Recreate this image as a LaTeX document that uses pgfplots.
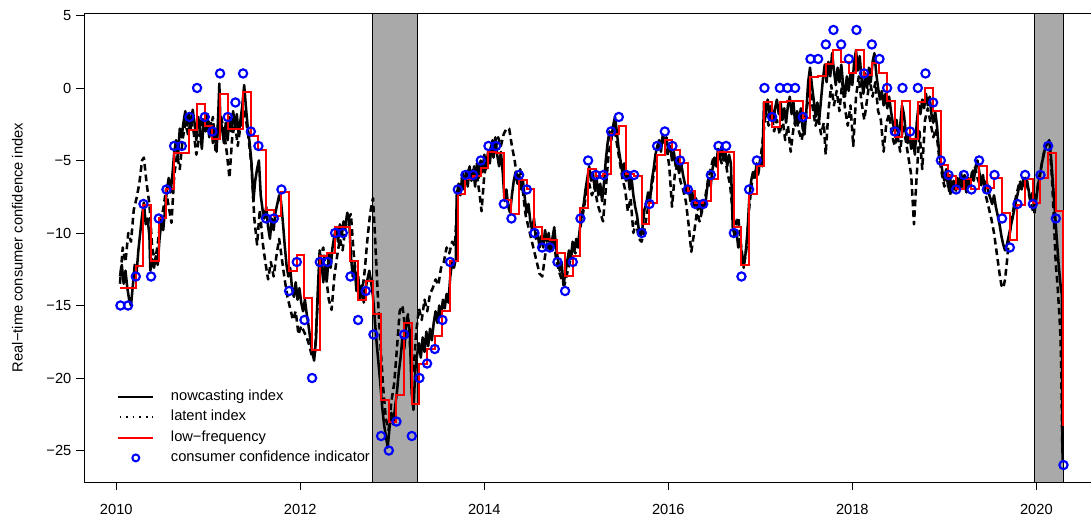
\documentclass[border=0pt]{standalone}
\usepackage{pgfplots}
\pgfplotsset{compat=1.18}
\usepackage{pgfplotstable}
\usepackage{fontspec}
\setmainfont{Liberation Sans}
\definecolor{shade}{RGB}{169,169,169}

\pgfplotstableread{
t c r
2010.045 -15 -13.8
2010.128 -15 -13.8
2010.212 -13 -12.3
2010.295 -8 -8.1
2010.378 -13 -11.9
2010.462 -9 -9.0
2010.545 -7 -7.0
2010.628 -4 -4.5
2010.712 -4 -4.5
2010.795 -2 -2.9
2010.878 0 -1.1
2010.962 -2 -2.6
2011.045 -3 -3.5
2011.128 1 -0.4
2011.212 -2 -2.8
2011.295 -1 -2.8
2011.378 1 -0.3
2011.462 -3 -3.3
2011.545 -4 -4.3
2011.628 -9 -8.4
2011.712 -9 -8.8
2011.795 -7 -7.2
2011.878 -14 -12.6
2011.962 -12 -11.5
2012.045 -16 -14.5
2012.128 -20 -18.1
2012.212 -12 -11.6
2012.295 -12 -11.4
2012.378 -10 -9.6
2012.462 -10 -9.6
2012.545 -13 -11.9
2012.628 -16 -14.6
2012.712 -14 -13.3
2012.795 -17 -15.6
2012.878 -24 -21.5
2012.962 -25 -23.0
2013.045 -23 -21.2
2013.128 -17 -16.2
2013.212 -24 -21.8
2013.295 -20 -19.0
2013.378 -19 -18.0
2013.462 -18 -17.1
2013.545 -16 -15.4
2013.628 -12 -11.9
2013.712 -7 -7.3
2013.795 -6 -6.3
2013.878 -6 -6.1
2013.962 -5 -5.5
2014.045 -4 -4.4
2014.128 -4 -4.5
2014.212 -8 -7.7
2014.295 -9 -8.7
2014.378 -6 -6.35
2014.462 -7 -7.0
2014.545 -10 -9.6
2014.628 -11 -10.4
2014.712 -11 -10.5
2014.795 -12 -11.4
2014.878 -14 -13.0
2014.962 -12 -11.6
2015.045 -9 -8.3
2015.128 -5 -5.6
2015.212 -6 -6.1
2015.295 -6 -5.9
2015.378 -3 -3.2
2015.462 -2 -2.6
2015.545 -6 -5.9
2015.628 -6 -6.1
2015.712 -10 -9.4
2015.795 -8 -7.9
2015.878 -4 -4.6
2015.962 -3 -3.6
2016.045 -4 -4.3
2016.128 -5 -5.2
2016.212 -7 -7.1
2016.295 -8 -7.9
2016.378 -8 -7.8
2016.462 -6 -6.3
2016.545 -4 -4.4
2016.628 -4 -4.4
2016.712 -10 -9.6
2016.795 -13 -12.2
2016.878 -7 -7.3
2016.962 -5 -5.4
2017.045 0 -0.95
2017.128 -2 -2.7
2017.212 0 -0.95
2017.295 0 -0.9
2017.378 0 -0.9
2017.462 -2 -2.1
2017.545 2 0.75
2017.628 2 0.8
2017.712 3 1.65
2017.795 4 2.65
2017.878 3 1.8
2017.962 2 1.0
2018.045 4 2.65
2018.128 1 0.9
2018.212 3 1.7
2018.295 2 1.0
2018.378 0 -0.9
2018.462 -3 -3.4
2018.545 0 -0.9
2018.628 -3 -3.5
2018.712 0 -1.0
2018.795 1 0.0
2018.878 -1 -1.6
2018.962 -5 -5.3
2019.045 -6 -6.1
2019.128 -7 -7.0
2019.212 -6 -6.3
2019.295 -7 -7.0
2019.378 -5 -5.4
2019.462 -7 -6.9
2019.545 -6 -6.2
2019.628 -9 -8.6
2019.712 -11 -10.5
2019.795 -8 -8.1
2019.878 -6 -6.3
2019.962 -8 -7.9
2020.045 -6 -6.2
2020.128 -4 -4.5
2020.212 -9 -8.5
2020.295 -26 -23.3
}\monthly

\pgfplotstableread{
t v
2010.04 -13.0
2010.06 -12.2
2010.08 -13.5
2010.10 -12.6
2010.12 -13.8
2010.14 -14.6
2010.16 -15.0
2010.18 -13.6
2010.20 -12.2
2010.22 -12.8
2010.24 -11.2
2010.26 -10.0
2010.28 -8.8
2010.30 -7.9
2010.32 -9.4
2010.34 -9.0
2010.36 -10.2
2010.37 -12.6
2010.39 -11.8
2010.41 -12.4
2010.43 -11.6
2010.45 -12.2
2010.47 -10.4
2010.49 -9.2
2010.51 -9.8
2010.53 -8.4
2010.55 -7.0
2010.57 -6.2
2010.59 -7.2
2010.61 -6.0
2010.63 -4.4
2010.65 -3.6
2010.67 -4.8
2010.69 -2.8
2010.71 -3.4
2010.73 -2.4
2010.75 -1.6
2010.77 -2.6
2010.79 -1.8
2010.81 -2.8
2010.83 -1.5
2010.85 -2.4
2010.87 -3.6
2010.89 -2.0
2010.91 -2.8
2010.93 -4.2
2010.95 -2.2
2010.97 -3.0
2010.99 -2.0
2011.01 -3.4
2011.03 -2.4
2011.05 -3.8
2011.07 -2.8
2011.09 -4.4
2011.11 -1.5
2011.12 0.3
2011.13 -2.0
2011.15 -2.8
2011.17 -3.8
2011.19 -2.4
2011.21 -3.6
2011.23 -2.0
2011.25 -3.0
2011.27 -1.6
2011.29 -2.6
2011.31 -1.8
2011.33 -3.2
2011.35 -2.2
2011.37 -1.2
2011.39 0.2
2011.41 -1.4
2011.43 -2.8
2011.45 -3.8
2011.47 -5.2
2011.49 -7.8
2011.51 -6.4
2011.53 -5.6
2011.55 -5.0
2011.57 -7.4
2011.59 -8.4
2011.61 -9.0
2011.63 -8.2
2011.65 -9.6
2011.67 -10.4
2011.69 -9.0
2011.71 -9.8
2011.73 -8.6
2011.75 -8.0
2011.77 -7.4
2011.79 -7.8
2011.81 -9.2
2011.83 -10.8
2011.85 -12.2
2011.87 -13.0
2011.89 -12.4
2011.91 -13.8
2011.93 -14.4
2011.95 -13.4
2011.97 -14.6
2011.99 -13.8
2012.01 -14.8
2012.03 -15.4
2012.05 -14.6
2012.07 -15.6
2012.09 -16.4
2012.11 -17.4
2012.13 -18.2
2012.15 -18.8
2012.17 -17.4
2012.19 -14.0
2012.21 -11.2
2012.23 -12.0
2012.25 -13.4
2012.27 -12.2
2012.29 -13.2
2012.31 -11.4
2012.33 -12.4
2012.35 -11.0
2012.37 -10.2
2012.39 -9.6
2012.41 -10.6
2012.43 -9.4
2012.45 -10.2
2012.47 -9.2
2012.49 -9.6
2012.51 -8.6
2012.53 -9.0
2012.55 -11.6
2012.57 -13.0
2012.59 -12.2
2012.61 -14.0
2012.63 -13.0
2012.65 -14.6
2012.67 -13.6
2012.69 -14.8
2012.71 -13.8
2012.73 -13.2
2012.75 -12.6
2012.77 -13.4
2012.79 -14.4
2012.81 -16.0
2012.83 -17.6
2012.85 -19.0
2012.87 -20.4
2012.89 -22.0
2012.91 -23.2
2012.93 -24.0
2012.95 -24.8
2012.97 -23.4
2012.99 -22.4
2013.01 -23.2
2013.03 -22.0
2013.05 -21.0
2013.07 -19.6
2013.09 -18.6
2013.11 -17.2
2013.13 -18.0
2013.15 -16.4
2013.17 -15.8
2013.19 -16.8
2013.21 -21.0
2013.23 -22.2
2013.25 -19.4
2013.27 -18.4
2013.29 -17.6
2013.31 -18.6
2013.33 -17.2
2013.35 -18.2
2013.37 -16.8
2013.39 -17.8
2013.41 -16.6
2013.43 -17.4
2013.45 -16.2
2013.47 -15.4
2013.49 -16.2
2013.51 -15.0
2013.53 -15.8
2013.55 -14.6
2013.57 -15.2
2013.59 -14.2
2013.61 -14.8
2013.63 -13.0
2013.65 -12.0
2013.67 -12.4
2013.69 -11.8
2013.70 -7.4
2013.72 -6.6
2013.74 -7.4
2013.76 -6.0
2013.78 -7.0
2013.80 -5.8
2013.82 -6.8
2013.84 -5.4
2013.86 -6.4
2013.88 -5.6
2013.90 -6.8
2013.92 -5.2
2013.94 -6.2
2013.96 -5.0
2013.98 -5.8
2014.00 -4.6
2014.02 -5.6
2014.04 -4.4
2014.06 -5.2
2014.08 -3.8
2014.10 -4.8
2014.12 -3.4
2014.14 -4.6
2014.16 -5.4
2014.18 -4.4
2014.20 -5.8
2014.22 -7.8
2014.24 -7.0
2014.26 -8.2
2014.28 -8.6
2014.30 -7.4
2014.32 -6.4
2014.34 -5.8
2014.36 -6.6
2014.38 -6.0
2014.40 -7.0
2014.42 -6.4
2014.44 -7.6
2014.46 -8.6
2014.48 -8.0
2014.50 -9.2
2014.52 -9.8
2014.54 -9.0
2014.56 -10.4
2014.58 -10.0
2014.60 -11.0
2014.62 -10.2
2014.64 -11.0
2014.66 -9.8
2014.68 -10.6
2014.70 -10.0
2014.72 -11.2
2014.74 -10.4
2014.76 -9.6
2014.78 -11.0
2014.80 -11.8
2014.82 -12.6
2014.84 -12.0
2014.86 -13.6
2014.88 -12.8
2014.90 -12.0
2014.92 -11.2
2014.94 -11.8
2014.96 -10.6
2014.98 -11.2
2015.00 -10.4
2015.02 -11.0
2015.04 -9.6
2015.06 -8.8
2015.08 -8.0
2015.10 -7.0
2015.12 -6.2
2015.14 -5.4
2015.16 -6.4
2015.18 -5.8
2015.20 -7.0
2015.22 -6.2
2015.24 -7.4
2015.26 -6.6
2015.28 -7.8
2015.30 -6.6
2015.32 -5.0
2015.34 -3.8
2015.36 -3.0
2015.38 -3.6
2015.40 -2.6
2015.42 -2.0
2015.44 -3.0
2015.46 -4.2
2015.48 -5.0
2015.50 -5.8
2015.52 -5.2
2015.54 -6.4
2015.56 -5.8
2015.58 -7.0
2015.60 -6.2
2015.62 -7.4
2015.64 -8.2
2015.66 -8.8
2015.68 -9.8
2015.70 -10.2
2015.72 -9.6
2015.74 -8.4
2015.76 -8.0
2015.78 -7.2
2015.80 -7.8
2015.82 -6.4
2015.84 -5.6
2015.86 -4.6
2015.88 -4.0
2015.90 -3.6
2015.92 -4.4
2015.94 -3.2
2015.96 -3.8
2015.98 -3.4
2016.00 -4.4
2016.02 -4.0
2016.04 -5.0
2016.06 -4.4
2016.08 -5.4
2016.10 -4.8
2016.12 -5.8
2016.14 -5.2
2016.16 -6.0
2016.18 -6.6
2016.20 -7.2
2016.22 -6.8
2016.24 -7.8
2016.26 -7.2
2016.28 -8.2
2016.30 -7.6
2016.32 -8.4
2016.34 -7.8
2016.36 -8.6
2016.38 -7.8
2016.40 -8.2
2016.42 -7.0
2016.44 -6.2
2016.46 -6.8
2016.48 -5.6
2016.50 -4.8
2016.52 -5.4
2016.54 -4.2
2016.56 -4.8
2016.58 -4.0
2016.60 -5.0
2016.62 -4.4
2016.64 -5.4
2016.66 -4.6
2016.68 -5.2
2016.70 -9.6
2016.72 -10.2
2016.74 -9.8
2016.76 -11.0
2016.78 -10.4
2016.80 -11.6
2016.82 -12.2
2016.84 -11.4
2016.86 -10.0
2016.88 -7.6
2016.90 -6.4
2016.92 -5.8
2016.94 -6.2
2016.96 -5.2
2016.98 -5.8
2017.00 -4.8
2017.02 -5.4
2017.04 -1.0
2017.06 -1.6
2017.08 -0.8
2017.10 -2.0
2017.12 -1.2
2017.14 -2.4
2017.16 -1.4
2017.18 -0.8
2017.20 -1.8
2017.22 -1.0
2017.24 -2.2
2017.26 -1.4
2017.28 -2.4
2017.30 -1.2
2017.32 -0.6
2017.34 -1.8
2017.36 -1.0
2017.38 -2.6
2017.40 -1.6
2017.42 -2.4
2017.44 -1.4
2017.46 -2.8
2017.48 -3.2
2017.50 -1.6
2017.52 0.4
2017.54 1.4
2017.56 0.2
2017.58 -0.8
2017.60 -2.0
2017.62 -1.0
2017.64 -2.2
2017.66 -0.8
2017.68 0.6
2017.70 1.6
2017.72 0.4
2017.74 1.8
2017.76 0.8
2017.78 2.4
2017.80 1.2
2017.82 0.2
2017.84 1.4
2017.86 0.4
2017.88 1.6
2017.90 0.2
2017.92 -0.6
2017.94 0.8
2017.96 -0.2
2017.98 1.0
2018.00 0.2
2018.02 1.8
2018.04 2.6
2018.06 1.2
2018.08 2.2
2018.10 0.6
2018.12 -0.4
2018.14 1.0
2018.16 0.0
2018.18 1.4
2018.20 0.4
2018.22 1.8
2018.24 2.4
2018.26 1.0
2018.28 0.0
2018.30 -0.8
2018.32 -0.2
2018.34 -1.2
2018.36 -0.4
2018.38 -1.4
2018.40 -0.6
2018.42 -1.6
2018.44 -2.4
2018.46 -3.0
2018.48 -2.2
2018.50 -3.4
2018.52 -2.6
2018.54 -1.2
2018.56 -1.8
2018.58 -3.0
2018.60 -3.8
2018.62 -3.2
2018.64 -4.2
2018.66 -3.6
2018.68 -4.6
2018.70 -2.4
2018.72 -1.2
2018.74 -1.8
2018.76 -0.8
2018.78 -1.4
2018.80 -0.4
2018.82 -1.2
2018.84 -0.6
2018.86 -1.8
2018.88 -2.4
2018.90 -1.6
2018.92 -2.6
2018.94 -4.2
2018.96 -5.0
2018.98 -5.8
2019.00 -6.4
2019.02 -5.6
2019.04 -6.8
2019.06 -6.0
2019.08 -7.2
2019.10 -6.4
2019.12 -7.0
2019.14 -6.2
2019.16 -6.8
2019.18 -5.8
2019.20 -6.6
2019.22 -6.0
2019.24 -7.0
2019.26 -6.2
2019.28 -6.8
2019.30 -5.8
2019.32 -6.4
2019.34 -5.4
2019.36 -5.0
2019.38 -5.8
2019.40 -6.6
2019.42 -6.0
2019.44 -7.0
2019.46 -6.4
2019.48 -7.2
2019.50 -7.6
2019.52 -8.0
2019.54 -7.4
2019.56 -8.2
2019.58 -8.8
2019.60 -9.4
2019.62 -10.2
2019.64 -10.8
2019.66 -11.2
2019.68 -10.8
2019.70 -10.2
2019.72 -9.6
2019.74 -9.0
2019.76 -8.4
2019.78 -7.8
2019.80 -7.2
2019.82 -6.6
2019.84 -7.0
2019.86 -6.2
2019.88 -6.8
2019.90 -6.4
2019.92 -7.2
2019.94 -7.8
2019.96 -7.2
2019.98 -8.6
2020.00 -7.6
2020.02 -6.6
2020.04 -6.0
2020.06 -5.2
2020.08 -4.6
2020.10 -4.0
2020.12 -3.8
2020.14 -3.6
2020.16 -4.8
2020.18 -6.6
2020.20 -8.4
2020.22 -10.2
2020.24 -12.0
2020.26 -13.4
2020.27 -14.0
2020.278 -14.2
2020.285 -25.7
}\nowcast

\pgfplotstableread{
t v
2010.04 -13.5
2010.07 -11.0
2010.10 -12.0
2010.13 -10.0
2010.16 -10.6
2010.19 -8.4
2010.22 -7.6
2010.25 -6.6
2010.28 -5.0
2010.30 -4.8
2010.33 -6.6
2010.36 -8.0
2010.39 -11.0
2010.42 -12.0
2010.45 -10.8
2010.48 -9.0
2010.51 -8.4
2010.54 -7.0
2010.57 -8.2
2010.60 -9.3
2010.63 -6.0
2010.66 -4.6
2010.69 -5.6
2010.72 -3.6
2010.75 -2.4
2010.78 -3.2
2010.81 -2.2
2010.84 -3.0
2010.87 -4.6
2010.90 -3.4
2010.93 -2.0
2010.96 -2.8
2010.99 -1.8
2011.02 -3.0
2011.05 -2.0
2011.08 -4.4
2011.11 -2.4
2011.14 -2.0
2011.17 -3.0
2011.20 -4.4
2011.23 -6.2
2011.26 -3.4
2011.29 -2.4
2011.32 -4.0
2011.35 -2.6
2011.38 -1.4
2011.41 -2.2
2011.44 -3.6
2011.47 -5.4
2011.50 -9.0
2011.53 -10.8
2011.56 -8.4
2011.59 -10.6
2011.62 -12.0
2011.65 -13.2
2011.68 -12.0
2011.71 -13.0
2011.74 -11.6
2011.77 -10.4
2011.80 -11.8
2011.83 -13.2
2011.86 -14.4
2011.89 -15.2
2011.92 -16.0
2011.95 -15.4
2011.98 -17.0
2012.01 -16.4
2012.04 -16.8
2012.07 -17.2
2012.10 -17.8
2012.13 -18.6
2012.16 -18.2
2012.19 -14.6
2012.22 -11.6
2012.25 -11.0
2012.28 -13.0
2012.31 -14.6
2012.34 -15.3
2012.37 -13.0
2012.40 -11.6
2012.43 -10.4
2012.46 -11.2
2012.49 -9.6
2012.52 -9.0
2012.55 -8.7
2012.58 -11.4
2012.61 -13.2
2012.64 -14.6
2012.67 -14.2
2012.70 -12.6
2012.73 -10.4
2012.76 -8.6
2012.79 -7.6
2012.81 -10.0
2012.84 -14.0
2012.87 -17.6
2012.90 -20.6
2012.93 -22.8
2012.96 -23.6
2012.99 -21.6
2013.02 -20.4
2013.05 -18.0
2013.08 -15.4
2013.11 -15.0
2013.14 -16.6
2013.17 -15.6
2013.20 -18.4
2013.23 -19.6
2013.26 -16.8
2013.29 -15.2
2013.32 -16.0
2013.35 -14.6
2013.38 -15.4
2013.41 -14.2
2013.44 -13.8
2013.47 -13.2
2013.50 -13.6
2013.53 -12.4
2013.56 -12.0
2013.59 -11.0
2013.62 -11.4
2013.65 -10.6
2013.68 -10.9
2013.71 -7.4
2013.74 -6.8
2013.77 -5.8
2013.80 -6.6
2013.83 -5.6
2013.86 -6.2
2013.89 -5.4
2013.92 -6.0
2013.95 -7.4
2013.97 -8.5
2014.00 -6.0
2014.03 -5.0
2014.06 -4.4
2014.09 -3.6
2014.12 -4.2
2014.15 -3.4
2014.18 -4.0
2014.21 -3.2
2014.24 -2.8
2014.27 -2.8
2014.30 -4.0
2014.33 -5.0
2014.36 -6.4
2014.39 -5.6
2014.42 -7.2
2014.45 -8.8
2014.48 -9.6
2014.51 -10.4
2014.54 -11.2
2014.57 -12.0
2014.60 -12.8
2014.63 -13.0
2014.66 -11.6
2014.69 -10.6
2014.72 -11.4
2014.75 -10.2
2014.78 -11.8
2014.81 -12.6
2014.84 -13.2
2014.87 -13.6
2014.90 -12.8
2014.93 -12.0
2014.96 -11.0
2014.99 -11.4
2015.02 -10.6
2015.05 -9.4
2015.08 -8.4
2015.11 -7.2
2015.14 -6.6
2015.17 -7.4
2015.20 -6.8
2015.23 -8.0
2015.26 -8.6
2015.29 -9.2
2015.32 -7.0
2015.35 -4.6
2015.38 -3.4
2015.41 -2.6
2015.44 -3.8
2015.47 -5.0
2015.50 -6.2
2015.53 -7.0
2015.56 -8.5
2015.59 -7.6
2015.62 -10.0
2015.65 -9.2
2015.68 -10.4
2015.71 -10.6
2015.74 -9.8
2015.77 -8.6
2015.80 -7.6
2015.83 -6.4
2015.86 -5.2
2015.89 -4.2
2015.92 -3.8
2015.95 -3.2
2015.98 -4.0
2016.01 -5.4
2016.04 -8.2
2016.07 -6.0
2016.10 -5.2
2016.13 -6.4
2016.16 -7.0
2016.19 -7.8
2016.22 -9.4
2016.25 -11.3
2016.28 -10.0
2016.31 -8.6
2016.34 -9.2
2016.37 -8.4
2016.40 -7.6
2016.43 -6.4
2016.46 -5.6
2016.49 -4.8
2016.52 -5.4
2016.55 -4.6
2016.58 -5.2
2016.61 -4.4
2016.64 -5.8
2016.67 -6.6
2016.70 -8.6
2016.73 -9.6
2016.76 -8.9
2016.79 -10.8
2016.82 -12.4
2016.85 -11.0
2016.88 -8.2
2016.91 -6.4
2016.94 -5.6
2016.97 -6.2
2017.00 -5.0
2017.03 -3.4
2017.06 -1.6
2017.09 -2.6
2017.12 -1.8
2017.15 -3.0
2017.18 -2.2
2017.21 -3.2
2017.24 -2.0
2017.27 -3.6
2017.30 -2.6
2017.33 -4.4
2017.36 -2.8
2017.39 -2.0
2017.42 -3.0
2017.45 -3.6
2017.48 -2.4
2017.51 -1.2
2017.54 0.2
2017.57 -1.4
2017.60 -2.6
2017.63 -2.0
2017.66 -3.2
2017.69 -2.4
2017.71 -4.6
2017.74 -1.6
2017.77 0.2
2017.80 -1.2
2017.83 -0.2
2017.86 -1.6
2017.89 0.4
2017.92 -1.4
2017.95 -2.6
2017.98 -1.2
2018.01 -4.0
2018.04 -0.6
2018.07 0.8
2018.10 -1.0
2018.13 -2.2
2018.16 -0.8
2018.19 0.6
2018.22 -0.6
2018.25 0.4
2018.28 -1.6
2018.31 -2.2
2018.34 -4.4
2018.37 -2.4
2018.40 -1.8
2018.43 -3.2
2018.46 -4.0
2018.49 -3.2
2018.52 -4.4
2018.55 -2.6
2018.58 -3.6
2018.61 -4.8
2018.64 -6.0
2018.67 -9.4
2018.70 -6.0
2018.73 -3.0
2018.76 -5.6
2018.79 -2.2
2018.82 -1.4
2018.85 -2.4
2018.88 -3.4
2018.91 -2.8
2018.94 -4.6
2018.97 -5.8
2019.00 -6.8
2019.03 -6.2
2019.06 -7.4
2019.09 -6.6
2019.12 -7.2
2019.15 -6.4
2019.18 -7.0
2019.21 -6.2
2019.24 -7.2
2019.27 -6.6
2019.30 -6.0
2019.33 -5.4
2019.36 -6.2
2019.39 -6.8
2019.42 -6.4
2019.45 -7.4
2019.48 -8.2
2019.51 -9.0
2019.54 -10.0
2019.57 -11.4
2019.60 -12.8
2019.62 -13.6
2019.64 -13.8
2019.66 -13.2
2019.68 -12.0
2019.70 -10.6
2019.73 -9.2
2019.76 -8.0
2019.79 -7.2
2019.82 -6.4
2019.85 -6.8
2019.88 -6.2
2019.91 -7.0
2019.94 -8.0
2019.97 -8.6
2020.00 -7.4
2020.03 -6.2
2020.06 -5.2
2020.09 -4.2
2020.12 -3.8
2020.15 -4.4
2020.17 -6.2
2020.19 -9.0
2020.21 -12.0
2020.23 -13.6
2020.25 -15.6
2020.26 -16.8
2020.27 -19.0
2020.283 -25.4
}\latent

\begin{document}
\begin{tikzpicture}[font=\fontsize{11pt}{13pt}\selectfont]
\useasboundingbox (-63pt,-28.5pt) rectangle (755.25pt,361.5pt);
\begin{axis}[
  scale only axis,
  width=756pt, height=351.75pt,
  xmin=2009.649, xmax=2020.605,
  ymin=-27.17, ymax=5.17,
  axis line style={line width=0.6pt},
  tick style={black, line width=0.6pt},
  tick align=outside,
  major tick length=6pt,
  xtick pos=bottom, ytick pos=left,
  xtick={2010,2012,2014,2016,2018,2020},
  xticklabels={2010,2012,2014,2016,2018,2020},
  xticklabel style={yshift=-7pt},
  ytick={-25,-20,-15,-10,-5,0,5},
  yticklabels={−25,−20,−15,−10,−5,0,5},
  every axis y label/.style={at={(axis description cs:-0.0661,0.5)}, rotate=90, anchor=center},
  ylabel={Real−time consumer confidence index},
  legend cell align=left,
  legend style={draw=none, fill=none, at={(axis description cs:0,0)}, anchor=south west,
    xshift=25pt, yshift=12.8pt, inner sep=0pt, outer sep=0pt,
    nodes={inner sep=0pt, text height=8pt, text depth=2.5pt},
    row sep=4.75pt, column sep=12.5pt},
]
\addlegendimage{legend image code/.code={\draw[black, line width=1.5pt] (0pt,0pt) -- (26.25pt,0pt);}}
\addlegendentry{nowcasting index}
\addlegendimage{legend image code/.code={\draw[black, line width=1.3pt, dash pattern=on 1.3pt off 3.6pt] (1pt,0pt) -- (26.25pt,0pt);}}
\addlegendentry{latent index}
\addlegendimage{legend image code/.code={\draw[red, line width=1.5pt] (0pt,0pt) -- (26.25pt,0pt);}}
\addlegendentry{low−frequency}
\addlegendimage{legend image code/.code={\draw[blue, line width=1.5pt] (13.1pt,0pt) circle (2.6pt);}}
\addlegendentry{consumer confidence indicator}

\addplot[forget plot, draw=black, line width=0.6pt, fill=shade] coordinates {(2012.783,-27.17) (2012.783,5.17) (2013.272,5.17) (2013.272,-27.17)} -- cycle;
\addplot[forget plot, draw=black, line width=0.6pt, fill=shade] coordinates {(2019.978,-27.17) (2019.978,5.17) (2020.29,5.17) (2020.29,-27.17)} -- cycle;

\addplot[forget plot, black, line width=1.9pt, dash pattern=on 5pt off 3pt, line join=round] table[x=t, y=v] {\latent};
\addplot[forget plot, black, line width=1.9pt, line join=round] table[x=t, y=v] {\nowcast};
\addplot[forget plot, red, line width=1.5pt, const plot] table[x=t, y=r] {\monthly};
\addplot[forget plot, only marks, blue, mark=o, mark size=3.1pt, mark options={line width=1.6pt}] table[x=t, y=c] {\monthly};
\end{axis}
\end{tikzpicture}
\end{document}
